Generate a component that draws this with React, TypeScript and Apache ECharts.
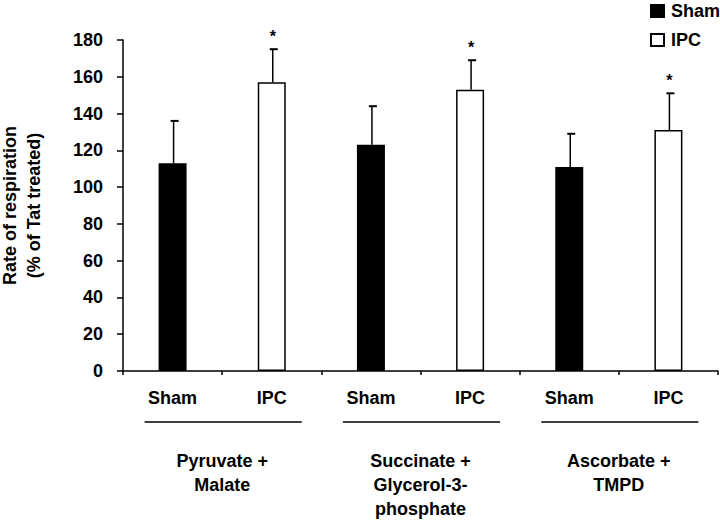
import React, { useEffect, useRef } from "react";
import * as echarts from "echarts";

const categories = ["Sham", "IPC", "Sham", "IPC", "Sham", "IPC"];
const groups = ["Pyruvate +\nMalate", "Succinate +\nGlycerol-3-\nphosphate", "Ascorbate +\nTMPD"];
const shamValues = [113, 123, 111];
const shamErrors = [23, 21, 18];
const ipcValues = [157, 153, 131];
const ipcErrors = [18, 16, 20];
const ipcSignificant = [1, 1, 1];
const yMin = 0;
const yMax = 180;
const yInterval = 20;

const FONT = "'Liberation Sans', Arial, sans-serif";

export default function App() {
  const ref = useRef<HTMLDivElement>(null);
  useEffect(() => {
    if (!ref.current) return;
    const chart = echarts.init(ref.current, null, { renderer: "svg" });

    const shamData = categories.map((c, i) => (i % 2 === 0 ? shamValues[i / 2] : null));
    const ipcData = categories.map((c, i) => (i % 2 === 1 ? ipcValues[(i - 1) / 2] : null));
    const errData: number[][] = [];
    for (let g = 0; g < groups.length; g++) {
      errData.push([g * 2, shamValues[g], shamErrors[g], 0]);
      errData.push([g * 2 + 1, ipcValues[g], ipcErrors[g], ipcSignificant[g]]);
    }

    const labelStyle = { color: "#000", fontFamily: FONT, fontWeight: "bold" as const, fontSize: 18 };

    chart.setOption({
      animation: false,
      backgroundColor: "#fff",
      textStyle: { fontFamily: FONT },
      grid: {
        left: 123,
        top: 40,
        width: 595,
        height: 331,
        containLabel: false,
        outerBoundsMode: "none",
      },
      legend: {
        data: ["Sham", "IPC"],
        orient: "vertical",
        left: 645,
        top: -3,
        icon: "rect",
        itemWidth: 13,
        itemHeight: 12,
        itemGap: 11,
        textStyle: { ...labelStyle, fontSize: 18, padding: [0, 0, 0, 2] },
      },
      xAxis: [
        {
          type: "category",
          data: categories,
          axisLine: { lineStyle: { color: "#000", width: 1.5 } },
          axisTick: { show: true, length: 4, lineStyle: { color: "#000", width: 1.5 } },
          axisLabel: { ...labelStyle, margin: 18 },
        },
        {
          type: "category",
          data: groups,
          position: "bottom",
          axisLine: { show: false },
          axisTick: { show: false },
          axisLabel: { ...labelStyle, margin: 78, lineHeight: 24 },
        },
      ],
      yAxis: {
        type: "value",
        min: yMin,
        max: yMax,
        interval: yInterval,
        name: "Rate of respiration\n(% of Tat treated)",
        nameLocation: "middle",
        nameRotate: 90,
        nameGap: 77,
        nameTextStyle: { ...labelStyle, lineHeight: 24 },
        splitLine: { show: false },
        axisLine: { show: true, lineStyle: { color: "#000", width: 1.5 } },
        axisTick: { show: true, length: 6, lineStyle: { color: "#000", width: 1.5 } },
        axisLabel: { ...labelStyle, margin: 20 },
      },
      series: [
        {
          name: "Sham",
          type: "bar",
          data: shamData,
          barWidth: 28,
          barGap: "-100%",
          itemStyle: { color: "#000", borderColor: "#000", borderWidth: 1.5 },
        },
        {
          name: "IPC",
          type: "bar",
          data: ipcData,
          barWidth: 28,
          barGap: "-100%",
          itemStyle: { color: "#fff", borderColor: "#000", borderWidth: 1.5 },
        },
        {
          name: "err",
          type: "custom",
          clip: false,
          z: 5,
          encode: { x: 0, y: 1 },
          data: errData,
          renderItem: (params: any, api: any) => {
            const idx = api.value(0);
            const v = api.value(1);
            const e = api.value(2);
            const star = api.value(3);
            const base = api.coord([idx, v]);
            const top = api.coord([idx, v + e]);
            const cx = base[0] + 1;
            const children: any[] = [
              {
                type: "line",
                shape: { x1: cx, y1: base[1], x2: cx, y2: top[1] },
                style: { stroke: "#000", lineWidth: 1.5 },
              },
              {
                type: "line",
                shape: { x1: cx - 3, y1: top[1], x2: cx + 5, y2: top[1] },
                style: { stroke: "#000", lineWidth: 2 },
              },
            ];
            if (star) {
              children.push({
                type: "text",
                style: {
                  text: "*",
                  x: cx,
                  y: top[1] - 13,
                  align: "center",
                  verticalAlign: "middle",
                  fill: "#000",
                  font: `bold 16px ${FONT}`,
                },
              });
            }
            return { type: "group", children };
          },
        },
      ],
    });

    // underline segments under each Sham/IPC pair
    const y0 = chart.convertToPixel({ yAxisIndex: 0 }, 0) as number;
    const lines: any[] = [];
    for (let g = 0; g < groups.length; g++) {
      const xs = chart.convertToPixel({ xAxisIndex: 0 }, g * 2) as number;
      const xi = chart.convertToPixel({ xAxisIndex: 0 }, g * 2 + 1) as number;
      lines.push({
        type: "line",
        shape: { x1: xs - 28, y1: y0 + 51, x2: xi + 30, y2: y0 + 51 },
        style: { stroke: "#000", lineWidth: 1.5 },
      });
    }
    chart.setOption({ graphic: lines });

    return () => chart.dispose();
  }, []);
  return (
    <div
      ref={ref}
      style={{ position: "fixed", left: 0, top: 0, width: 720, height: 520 }}
    />
  );
}
